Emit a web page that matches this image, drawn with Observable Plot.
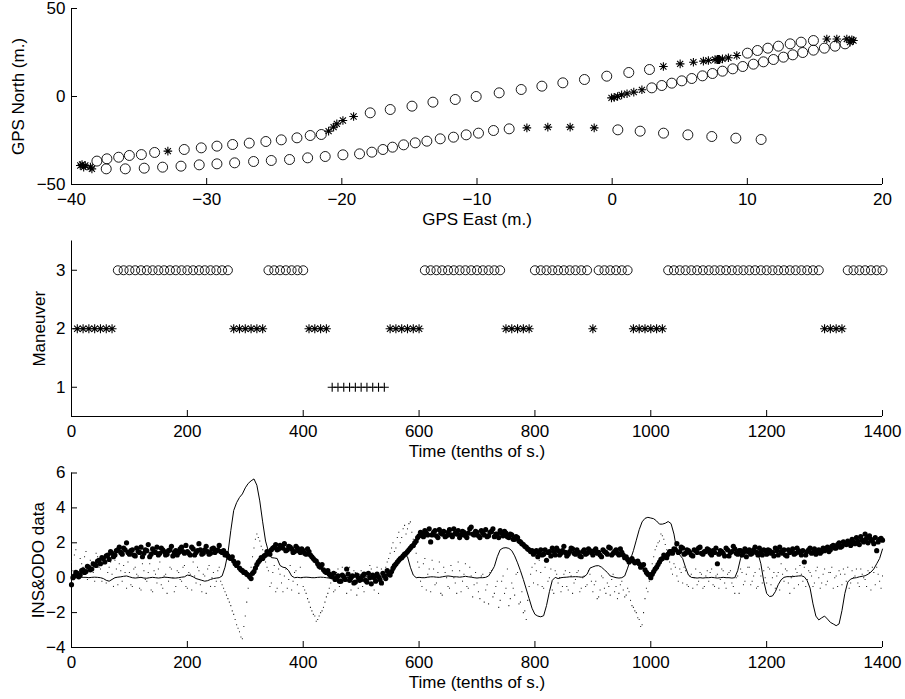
<!DOCTYPE html>
<html><head><meta charset="utf-8">
<script src="https://cdn.jsdelivr.net/npm/d3@7"></script>
<script src="https://cdn.jsdelivr.net/npm/@observablehq/plot@0.6"></script>
<style>
body{margin:0;background:#fff;}
#wrap{position:relative;width:905px;height:699px;background:#fff;}
#wrap svg{position:absolute;left:0;}
</style></head><body><div id="wrap"></div>
<script>
// ---------- Panel 1 / 2 data (one sample every 10 tenths of s, t = 10..1400) ----------
const gpsEast = [
 -0.05,0.15,0.4,0.7,1.1,1.6,2.2,
 2.93,3.67,4.41,5.15,5.89,6.68,7.42,8.16,8.92,9.66,10.45,11.19,11.93,12.67,13.36,14.10,14.89,15.70,16.49,17.23,
 17.6,17.85,17.73,17.36,16.62,15.88,
 14.89,13.98,13.17,12.3,11.52,10.75,10.01,
 9.22,8.6,8.16,7.86,
 7.9,7.85,7.95,7.9,7.8,7.88,7.92,7.85,7.8,7.75,
 7.61,7.12,6.75,6.01,5.03,3.79,
 2.76,1.23,-0.40,-2.05,-3.65,-5.2,-6.73,-8.36,-10.06,-11.61,-13.26,-14.81,-16.42,-17.9,
 -19.13,-19.92,-20.37,-20.61,-20.98,
 -21.52,-22.34,-23.32,-24.48,-25.62,-26.85,-28.08,-29.24,-30.4,-31.66,
 -32.87,
 -33.85,-34.83,-35.72,-36.51,-37.38,-38.12,
 -38.6,-38.98,-39.22,-39.35,-39.1,-38.49,
 -37.43,-36.02,-34.62,-33.26,-31.9,-30.55,-29.24,-27.93,-26.53,-25.22,-23.87,-22.53,-21.23,-19.92,-18.69,-17.78,-16.96,-16.25,-15.43,-14.57,-13.71,-12.72,-11.74,-10.8,-9.89,-8.78,-7.62,
 -6.31,-4.76,-3.11,-1.33,
 0.42,2.07,3.8,5.6,7.37,9.15,11.02
];
const gpsNorth = [
 -0.8,-0.5,0,0.9,1.6,2.5,3.8,
 4.92,6.25,7.58,8.90,10.23,11.74,13.07,14.39,15.72,17.05,18.37,19.70,21.02,22.35,23.67,25.0,26.33,27.46,28.6,29.92,
 30.87,31.8,32.2,32.7,32.7,32.7,
 31.8,30.87,29.92,28.6,27.46,26.14,24.62,
 23.3,22.0,21.4,21.0,
 21.0,21.1,20.9,21.0,21.2,21.05,20.95,21.1,21.0,20.9,
 21.0,20.45,20.08,19.5,18.56,17.05,
 15.34,13.64,11.55,9.66,7.77,5.87,3.98,2.08,0,-1.70,-3.22,-5.49,-7.39,-9.28,
 -11.36,-13.64,-15.53,-17.42,-19.7,
 -21.59,-22.16,-23.48,-24.62,-25.57,-26.5,-27.27,-28.2,-29.17,-30.1,
 -31.06,
 -31.8,-33.0,-33.5,-34.5,-35.4,-36.7,
 -40.15,-39.2,-38.6,-39.2,-40.15,-41.1,
 -41.1,-41.1,-40.72,-40.15,-39.58,-38.83,-38.26,-37.69,-36.93,-36.36,-35.8,-34.85,-34.09,-33.14,-32.58,-31.63,-30.11,-28.79,-27.46,-26.33,-25.38,-24.05,-23.11,-21.78,-20.83,-19.32,-18.37,
 -17.8,-17.42,-17.42,-17.8,
 -18.94,-19.7,-20.83,-21.78,-22.73,-23.67,-24.43
];
const maneuver = [
 2,2,2,2,2,2,2,
 3,3,3,3,3,3,3,3,3,3,3,3,3,3,3,3,3,3,3,3,
 2,2,2,2,2,2,
 3,3,3,3,3,3,3,
 2,2,2,2,
 1,1,1,1,1,1,1,1,1,1,
 2,2,2,2,2,2,
 3,3,3,3,3,3,3,3,3,3,3,3,3,3,
 2,2,2,2,2,
 3,3,3,3,3,3,3,3,3,3,
 2,
 3,3,3,3,3,3,
 2,2,2,2,2,2,
 3,3,3,3,3,3,3,3,3,3,3,3,3,3,3,3,3,3,3,3,3,3,3,3,3,3,3,
 2,2,2,2,
 3,3,3,3,3,3,3
];

// ---------- Panel 3 data (one sample every 5 tenths of s, t = 0..1400) ----------
const insLine = [
 0.05,0.04,0.03,0.03,0.02,0.02,0.0,0.02,0.03,0.02,0.0,-0.05,-0.15,-0.2,-0.1,0.0,0.03,0.05,0.08,0.1,
 0.05,0.0,-0.02,0.0,0.02,-0.02,-0.03,0.0,0.02,0.0,-0.02,0.0,0.03,0.02,0.0,-0.02,-0.02,0.0,0.03,0.05,
 0.15,0.12,0.05,-0.05,-0.1,-0.15,-0.2,-0.17,-0.1,-0.05,-0.02,0.0,0.1,0.6,1.4,2.7,3.85,4.3,4.6,4.8,
 5.15,5.4,5.55,5.66,5.3,4.4,3.2,2.1,1.5,1.15,1.13,1.1,0.7,0.6,0.57,0.4,0.1,0.0,0.02,0.0,
 0.02,0.03,0.02,0.0,0.0,0.02,0.03,0.02,0.0,-0.02,0.0,0.02,0.03,0.05,0.03,0.0,0.02,0.05,0.03,0.0,
 0.0,0.03,0.05,0.02,0.0,0.03,0.05,0.08,0.05,0.1,0.15,0.3,0.6,0.9,1.15,1.3,1.2,0.6,0.15,0.0,
 0.02,0.0,0.0,0.03,0.05,0.05,0.03,0.02,0.05,0.08,0.1,0.08,0.05,0.05,0.03,0.05,0.08,0.05,0.03,0.0,
 -0.02,0.0,0.0,0.02,0.1,0.35,0.65,1.2,1.6,1.7,1.72,1.68,1.55,1.25,0.85,0.4,-0.1,-0.65,-1.2,-1.75,
 -2.1,-2.2,-2.24,-2.18,-1.6,-0.8,-0.15,0.02,-0.05,0.0,0.02,0.03,0.05,0.05,0.06,0.05,0.03,0.05,0.2,0.55,
 0.62,0.68,0.69,0.6,0.45,0.3,0.1,0.05,0.0,-0.02,0.0,0.1,0.55,1.05,1.55,2.15,2.75,3.2,3.4,3.46,
 3.42,3.38,3.25,3.07,3.07,3.12,3.22,3.1,2.5,1.55,1.3,1.1,0.59,0.15,0.02,0.0,-0.02,0.0,-0.02,0.0,
 0.0,0.02,0.0,-0.02,0.0,0.02,0.0,0.0,-0.02,0.0,0.4,1.1,1.55,1.6,1.6,1.58,1.55,1.4,0.8,-0.2,
 -0.9,-1.08,-1.05,-0.8,-0.4,-0.12,0.02,0.06,0.06,0.06,0.08,0.1,0.11,0.05,-0.17,-0.6,-1.5,-2.2,-2.42,-2.3,
 -2.2,-2.37,-2.56,-2.65,-2.75,-2.65,-1.89,-0.9,-0.25,-0.08,-0.02,0.0,0.05,0.08,0.11,0.2,0.32,0.5,0.8,1.1,
 1.64
];
const insBig = [
 -0.4,0.1,0.25,0.15,0.45,0.35,0.6,0.5,0.75,0.95,0.8,1.1,1.25,1.05,1.4,1.3,1.6,1.45,1.7,2.0,
 1.35,1.6,1.25,1.5,1.75,1.4,1.55,1.2,1.65,1.45,1.3,1.7,1.5,1.35,1.6,1.25,1.55,1.45,1.75,1.4,
 1.5,1.3,1.65,1.45,1.95,1.35,1.6,1.5,1.4,1.7,1.55,1.85,1.45,1.3,1.25,1.1,0.95,0.7,0.55,0.4,
 0.3,0.15,-0.05,0.35,0.75,1.0,1.1,1.3,1.45,1.6,1.75,1.6,1.85,1.7,1.55,1.8,1.65,1.5,1.7,1.45,
 1.55,1.35,1.5,1.2,1.0,0.8,0.6,0.45,0.3,0.2,0.05,-0.1,0.1,-0.2,0.05,0.5,-0.15,0.1,-0.25,0.0,
 -0.1,0.2,-0.25,0.0,0.15,-0.2,0.05,-0.3,0.1,0.4,0.15,0.55,0.78,1.0,1.15,1.35,1.5,1.7,1.85,2.1,
 2.4,2.55,2.7,2.45,2.05,2.6,2.4,2.75,2.5,2.35,2.6,2.45,2.8,2.5,2.3,2.65,2.4,2.55,2.9,2.45,
 2.6,2.3,2.55,2.75,2.4,2.65,2.35,2.5,2.7,2.4,2.55,2.3,2.45,2.2,2.3,2.05,1.9,1.75,1.6,1.55,
 1.45,1.2,1.6,1.35,1.0,1.5,1.7,1.3,1.55,1.4,1.8,1.25,1.5,1.65,1.35,1.45,1.2,1.6,1.4,1.55,
 1.3,1.65,1.45,1.2,1.5,1.35,1.7,1.4,1.6,1.3,1.45,1.15,1.05,1.0,0.95,0.9,0.8,0.7,0.45,0.2,
 0.0,0.35,0.6,0.9,1.1,1.2,1.35,1.5,1.65,1.95,1.5,1.7,1.4,1.55,1.3,1.6,1.45,1.75,1.35,1.5,
 1.6,1.3,1.45,0.8,1.55,1.4,1.7,1.25,1.5,1.65,1.35,1.55,1.45,1.2,1.6,1.4,1.75,1.3,1.5,1.6,
 1.35,1.55,1.45,1.7,1.3,1.5,1.6,1.25,1.45,1.65,1.4,1.55,1.3,0.9,1.5,1.7,1.45,1.35,1.6,1.5,
 1.55,1.75,1.6,1.85,1.7,2.0,1.8,1.95,2.1,1.85,2.05,2.3,1.9,2.15,2.5,2.0,2.2,1.95,1.55,2.2,
 2.15
];
// second set of big dots, half-way between the samples above (t = 2.5..1397.5)
const insBigB = [
 0.0,0.3,0.05,0.4,0.3,0.65,0.45,0.8,0.7,1.0,1.15,0.9,1.3,1.5,1.2,1.55,1.75,1.35,1.6,1.45,
 1.55,1.3,1.7,1.45,1.2,1.6,1.9,1.35,1.5,1.75,1.4,1.6,1.3,1.55,1.8,1.45,1.3,1.65,1.5,1.85,
 1.4,1.75,1.3,1.55,1.6,1.4,1.8,1.35,1.65,1.45,1.6,1.5,1.55,1.4,1.15,1.2,0.8,0.85,0.45,0.3,
 0.2,0.05,0.25,0.55,0.9,1.15,1.25,1.5,1.35,1.7,1.9,1.65,1.75,1.95,1.6,1.75,1.45,1.8,1.55,1.65,
 1.4,1.65,1.3,1.1,0.95,0.65,0.75,0.35,0.4,0.1,0.25,0.0,-0.2,0.15,-0.1,0.2,0.0,-0.3,0.15,-0.15,
 0.1,-0.15,0.25,-0.35,0.0,0.2,-0.1,0.25,-0.05,0.2,0.35,0.7,0.9,1.1,1.25,1.4,1.6,1.8,2.0,2.3,
 2.6,2.35,2.55,2.8,2.45,2.7,2.3,2.55,2.65,2.4,2.75,2.35,2.55,2.7,2.45,2.6,2.3,2.8,2.5,2.65,
 2.4,2.7,2.45,2.35,2.6,2.8,2.5,2.3,2.55,2.65,2.35,2.5,2.2,2.35,2.1,1.95,1.8,1.65,1.5,1.35,
 1.55,1.4,1.3,1.6,1.45,1.25,1.5,1.7,1.3,1.55,1.45,1.35,1.7,1.4,1.6,1.25,1.5,1.35,1.65,1.45,
 1.55,1.4,1.3,1.6,1.45,1.75,1.3,1.5,1.4,1.65,1.3,1.2,0.9,1.1,0.85,0.95,0.6,0.75,0.3,0.15,
 0.2,0.5,0.75,1.05,1.3,1.15,1.5,1.4,1.6,1.45,1.75,1.35,1.6,1.45,1.25,1.55,1.7,1.4,1.5,1.65,
 1.4,1.55,1.7,1.35,1.5,1.25,1.6,1.45,1.8,1.4,1.55,1.3,1.65,1.5,1.35,1.6,1.45,1.7,1.3,1.55,
 1.6,1.4,1.25,1.55,1.75,1.4,1.3,1.6,1.5,1.35,1.7,1.45,1.55,1.3,1.6,1.4,1.65,1.5,1.4,1.7,
 1.65,1.5,1.8,1.7,1.9,1.75,2.05,1.9,2.0,2.2,1.95,2.1,2.35,2.05,2.25,2.4,2.1,2.3,2.05,2.25
];
const insSmallA = [
 0.9,1.3,0.2,1.1,0.6,1.5,0.4,0.9,-0.2,1.2,0.5,0.8,-0.3,0.6,0.2,1.0,-0.4,0.4,0.7,-0.6,
 0.3,-0.5,0.6,0.1,-0.7,0.4,-0.2,0.8,-0.8,0.2,0.5,-0.4,0.1,-0.9,0.6,0.0,-0.5,0.3,-0.2,0.7,
 -0.6,0.2,0.9,-0.3,0.4,-0.8,0.1,0.5,-0.5,0.3,-0.2,0.6,-0.4,-0.8,-1.2,-1.6,-2.1,-2.7,-3.1,-3.5,
 -2.2,-0.6,0.6,1.7,2.5,2.1,1.6,0.9,0.4,-0.3,0.7,-0.6,0.2,-0.8,0.5,-0.1,-0.7,0.3,-0.4,0.6,
 -0.5,-0.9,-1.4,-1.9,-2.2,-2.4,-2.0,-1.7,-1.1,-0.6,0.2,-0.7,0.5,-0.3,0.1,-0.9,0.6,-0.2,0.3,-0.6,
 0.4,-0.8,0.1,0.7,-0.4,0.2,-0.9,0.5,-0.1,0.9,1.4,2.0,1.7,2.6,2.3,3.0,2.8,3.2,2.2,1.4,
 0.6,-0.5,1.1,0.2,-0.8,0.5,-0.3,0.9,-1.0,0.3,-0.5,0.7,0.0,-0.9,0.4,-0.2,0.8,-0.6,0.1,-0.4,
 -0.3,-1.2,0.2,-0.7,-1.5,0.4,-0.9,-0.2,-1.3,0.1,-0.6,-1.6,-0.3,-1.0,0.3,-1.4,-2.0,-2.4,-0.5,0.6,
 0.8,-0.4,0.3,-0.6,0.9,0.0,-0.7,0.4,-0.3,-0.8,0.2,-0.5,0.3,-0.9,-0.1,0.4,-0.6,0.1,-0.4,0.2,
 -0.8,-0.2,-1.1,0.1,-0.6,-0.3,-1.0,0.2,-0.5,-0.9,-0.2,-1.1,-0.6,-1.3,-1.7,-2.0,-2.4,-2.7,-1.2,-0.8,
 0.3,1.2,1.8,2.1,2.4,1.9,1.3,0.5,0.8,0.1,0.5,-0.3,0.4,-0.5,0.2,0.0,-0.4,0.3,-0.6,0.1,
 -0.2,0.5,-0.5,0.2,-0.1,0.4,-0.6,0.3,-0.3,-0.9,0.1,0.5,-0.4,0.2,0.6,-0.2,0.3,-0.5,0.1,0.4,
 -0.3,0.5,0.0,-0.6,0.3,0.8,-0.2,0.4,-0.9,0.1,0.5,-0.4,0.2,0.6,-0.1,0.3,-0.5,0.4,0.0,-0.3,
 0.5,-0.2,0.3,-0.6,0.1,0.4,-0.4,0.2,0.6,-0.3,0.0,0.5,-0.5,0.2,-0.1,0.4,-0.7,0.3,0.6,-0.2,
 0.1
];
// second set of small dots, half-way between the samples above (t = 2.5..1397.5)
const insSmallB = [
 0.4,1.6,0.0,0.8,1.2,-0.1,1.0,0.3,1.4,0.6,-0.2,1.1,0.3,0.9,-0.5,0.5,0.8,-0.2,0.3,0.9,
 -0.4,0.5,0.2,-0.6,0.8,-0.1,0.3,-0.7,0.4,-0.3,0.9,-0.6,0.2,-0.2,0.5,-0.8,0.4,-0.1,0.6,-0.5,
 0.3,-0.7,0.1,0.6,-0.4,0.2,-0.9,0.7,0.0,-0.5,0.4,-0.2,-0.6,-1.0,-1.4,-1.9,-2.4,-2.9,-3.4,-2.8,
 -1.4,0.0,1.2,2.2,2.3,1.8,1.2,0.6,-0.5,0.3,-0.8,0.5,-0.3,0.1,-0.6,0.7,-0.2,0.4,-0.9,0.0,
 -0.7,-1.2,-1.7,-2.1,-2.5,-2.2,-1.9,-1.4,-0.9,-0.3,-0.8,0.3,-0.5,0.6,-0.2,0.0,-0.7,0.4,-1.0,0.2,
 -0.5,0.3,-0.2,0.5,-0.7,0.6,0.0,-0.4,0.6,1.1,1.7,1.5,2.3,2.0,2.8,2.5,3.1,2.6,1.8,0.9,
 -0.2,0.8,-0.7,0.5,1.0,-0.4,0.3,-0.9,0.6,0.0,-0.6,0.4,-0.3,0.9,-0.8,0.2,-0.5,0.6,-1.1,0.3,
 -0.8,0.1,-1.4,-0.4,0.3,-1.1,-0.5,-1.7,-0.2,-0.9,0.5,-1.2,-0.6,0.2,-1.5,-0.8,-1.9,-1.3,0.2,-0.3,
 0.4,1.0,-0.5,0.6,-0.2,0.5,-0.9,0.2,0.0,-0.5,0.4,-0.7,0.1,-0.3,0.3,-0.8,0.0,-0.5,0.4,-0.2,
 -0.4,-1.2,-0.7,0.0,-0.9,-0.5,-0.1,-0.8,-1.2,-0.4,-0.7,-1.0,-0.8,-1.6,-1.9,-2.3,-2.8,-2.0,-0.6,-0.2,
 0.8,1.6,2.0,2.5,2.2,1.6,0.9,0.2,0.6,-0.2,0.3,0.6,-0.4,0.1,-0.6,0.5,-0.2,0.2,-0.5,0.4,
 0.3,-0.4,0.1,-0.6,0.5,-0.3,0.2,0.4,-0.5,0.0,-0.9,0.3,-0.2,0.6,-0.4,0.1,-0.6,0.5,-0.3,0.0,
 0.6,-0.4,0.3,0.1,-0.7,0.2,0.5,-0.3,0.0,-0.6,0.3,0.7,-0.2,-0.5,0.4,0.1,-0.3,0.6,-0.6,0.2,
 -0.4,0.3,0.6,0.0,-0.5,0.2,0.5,-0.2,-0.6,0.4,0.1,-0.3,0.5,0.0,-0.5,0.3,0.6,-0.4,0.2,-0.6
];

// tick labels
const gpsXTicks = [-40,-30,-20,-10,0,10,20];
const gpsYTicks = [-50,0,50];
const timeTicks = [0,200,400,600,800,1000,1200,1400];
const manYTicks = [1,2,3];
const insYTicks = [-4,-2,0,2,4,6];

// ---------- helpers ----------
const W = 905, ML = 71, MR = 23;
const FONT = "'Liberation Sans', Arial, Helvetica, sans-serif";
const FS = 17;
const fmt = d => d < 0 ? "\u2212" + Math.abs(d) : String(d);

const asterisk = {draw(ctx, size) {
  const r = Math.sqrt(size / Math.PI), d = r * Math.SQRT1_2;
  ctx.moveTo(-r, 0); ctx.lineTo(r, 0);
  ctx.moveTo(0, -r); ctx.lineTo(0, r);
  ctx.moveTo(-d, -d); ctx.lineTo(d, d);
  ctx.moveTo(-d, d); ctx.lineTo(d, -d);
}};
const plusSym = {draw(ctx, size) {
  const r = Math.sqrt(size / Math.PI);
  ctx.moveTo(-r, 0); ctx.lineTo(r, 0);
  ctx.moveTo(0, -r); ctx.lineTo(0, r);
}};

function axesMarks(o) {
  const plotW = W - ML - MR;
  const plotH = o.height - o.mt - o.mb;
  const t = {fontSize: FS, fill: "black", lineAnchor: "middle"};
  return [
    Plot.ruleX([o.xDomain[0]], {stroke: "black", strokeWidth: 1}),
    Plot.ruleY([o.yDomain[0]], {stroke: "black", strokeWidth: 1}),
    Plot.ruleX(o.xTicks, {x: d => d, insetTop: plotH - 6, stroke: "black"}),
    Plot.ruleY(o.yTicks, {y: d => d, insetRight: plotW - 6, stroke: "black"}),
    Plot.text(o.xTicks, {x: d => d, frameAnchor: "bottom", dy: 15.5, text: fmt, textAnchor: "middle", ...t}),
    Plot.text(o.yTicks, {y: d => d, frameAnchor: "left", dx: -6, textAnchor: "end", text: fmt, ...t}),
    Plot.text([o.xLabel], {frameAnchor: "bottom", dy: 35.5, text: d => d, textAnchor: "middle", ...t}),
    Plot.text([o.yLabel], {frameAnchor: "left", dx: o.yLabelDx, rotate: -90, text: d => d, textAnchor: "middle", ...t})
  ];
}
function place(svg, top) {
  svg.style.top = top + "px";
  document.getElementById("wrap").appendChild(svg);
}
const baseStyle = {fontFamily: FONT, fontSize: FS + "px", overflow: "visible", background: "transparent", color: "black"};

// ---------- Panel 1: GPS track ----------
const gpsTime = d3.range(10, 1401, 10);
const rows = gpsTime.map((t, i) => ({t, east: gpsEast[i], north: gpsNorth[i], m: maneuver[i]}));

const p1 = {height: 230, mt: 8, mb: 46, xDomain: [-40, 20], yDomain: [-50, 50],
  xTicks: gpsXTicks, yTicks: gpsYTicks, xLabel: "GPS East (m.)", yLabel: "GPS North (m.)", yLabelDx: -53};
place(Plot.plot({
  width: W, height: p1.height, marginLeft: ML, marginRight: MR, marginTop: p1.mt, marginBottom: p1.mb,
  style: baseStyle,
  x: {domain: p1.xDomain, axis: null},
  y: {domain: p1.yDomain, axis: null},
  marks: [
    ...axesMarks(p1),
    Plot.dot(rows.filter(d => d.m === 3), {x: "east", y: "north", r: 5, stroke: "black", strokeWidth: 0.9, fill: "none"}),
    Plot.dot(rows.filter(d => d.m === 2), {x: "east", y: "north", r: 4.3, symbol: asterisk, stroke: "black", strokeWidth: 1.1, fill: "none"}),
    Plot.dot(rows.filter(d => d.m === 1), {x: "east", y: "north", r: 4.3, symbol: plusSym, stroke: "black", strokeWidth: 1.1, fill: "none"})
  ]
}), 0);

// ---------- Panel 2: maneuver ----------
const p2 = {height: 240, mt: 10.5, mb: 54, xDomain: [0, 1400], yDomain: [0.5, 3.5],
  xTicks: timeTicks, yTicks: manYTicks, xLabel: "Time (tenths of s.)", yLabel: "Maneuver", yLabelDx: -32};
place(Plot.plot({
  width: W, height: p2.height, marginLeft: ML, marginRight: MR, marginTop: p2.mt, marginBottom: p2.mb,
  style: baseStyle,
  x: {domain: p2.xDomain, axis: null},
  y: {domain: p2.yDomain, axis: null},
  marks: [
    ...axesMarks(p2),
    Plot.dot(rows.filter(d => d.m === 3), {x: "t", y: "m", r: 4.5, stroke: "black", strokeWidth: 0.9, fill: "none"}),
    Plot.dot(rows.filter(d => d.m === 2), {x: "t", y: "m", r: 4.5, symbol: asterisk, stroke: "black", strokeWidth: 1.1, fill: "none"}),
    Plot.dot(rows.filter(d => d.m === 1), {x: "t", y: "m", r: 4.5, symbol: plusSym, stroke: "black", strokeWidth: 1.1, fill: "none"})
  ]
}), 230);

// ---------- Panel 3: INS & ODO data ----------
const p3 = {height: 229, mt: 2.5, mb: 52, xDomain: [0, 1400], yDomain: [-4, 6],
  xTicks: timeTicks, yTicks: insYTicks, xLabel: "Time (tenths of s.)", yLabel: "INS&ODO data", yLabelDx: -33};
place(Plot.plot({
  width: W, height: p3.height, marginLeft: ML, marginRight: MR, marginTop: p3.mt, marginBottom: p3.mb,
  style: baseStyle,
  x: {domain: p3.xDomain, axis: null},
  y: {domain: p3.yDomain, axis: null},
  marks: [
    ...axesMarks(p3),
    Plot.dot(insSmallA, {x: (d, i) => i * 5, y: d => d, r: 0.6, symbol: "square", fill: "#222"}),
    Plot.dot(insSmallB, {x: (d, i) => i * 5 + 2.5, y: d => d, r: 0.6, symbol: "square", fill: "#222"}),
    Plot.line(insLine, {x: (d, i) => i * 5, y: d => d, stroke: "black", strokeWidth: 1}),
    Plot.dot(insBig, {x: (d, i) => i * 5, y: d => d, r: 2.6, fill: "black"}),
    Plot.dot(insBigB, {x: (d, i) => i * 5 + 2.5, y: d => d, r: 2.6, fill: "black"})
  ]
}), 470);
</script>
</body></html>
